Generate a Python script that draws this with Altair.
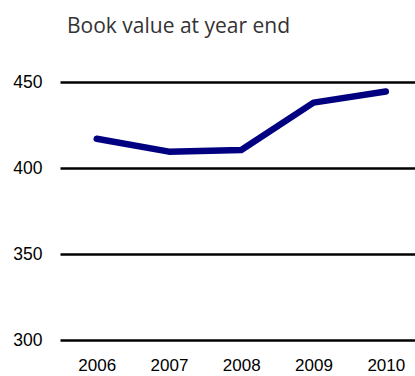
import altair as alt
import pandas as pd

years = ["2006", "2007", "2008", "2009", "2010"]
values = [417, 409.5, 410.5, 438, 444.5]
y_ticks = [300, 350, 400, 450]

df = pd.DataFrame({"year": years, "value": values})

chart = alt.Chart(df).mark_line(
    color="#000080", strokeWidth=6.5, strokeCap="round", strokeJoin="round"
).encode(
    x=alt.X("year:O", scale=alt.Scale(type="point", padding=0.456, align=0.557),
            axis=alt.Axis(title=None, labelAngle=0, domain=False, ticks=False,
                          labelPadding=17, labelFont="Liberation Sans",
                          labelFontSize=17, labelColor="#000", grid=False)),
    y=alt.Y("value:Q", scale=alt.Scale(domain=[300, 450], nice=False, zero=False),
            axis=alt.Axis(title=None, values=y_ticks, domain=False, ticks=False,
                          labelPadding=18, labelFont="Liberation Sans",
                          labelFontSize=17.5, labelColor="#000",
                          grid=True, gridColor="#000", gridWidth=2.5, gridOpacity=1)),
).properties(
    width=355, height=258,
    title=alt.TitleParams("Book value at year end", anchor="start", frame="group", dx=7,
                          font="Open Sans", fontSize=21, fontWeight="normal",
                          color="#333", offset=36),
    autosize=alt.AutoSizeParams(type="none"),
    padding={"left": 60, "top": 82, "right": 0, "bottom": 36},
).configure_view(stroke=None)

chart.save("out.html", embed_options={"renderer": "svg", "actions": False})
